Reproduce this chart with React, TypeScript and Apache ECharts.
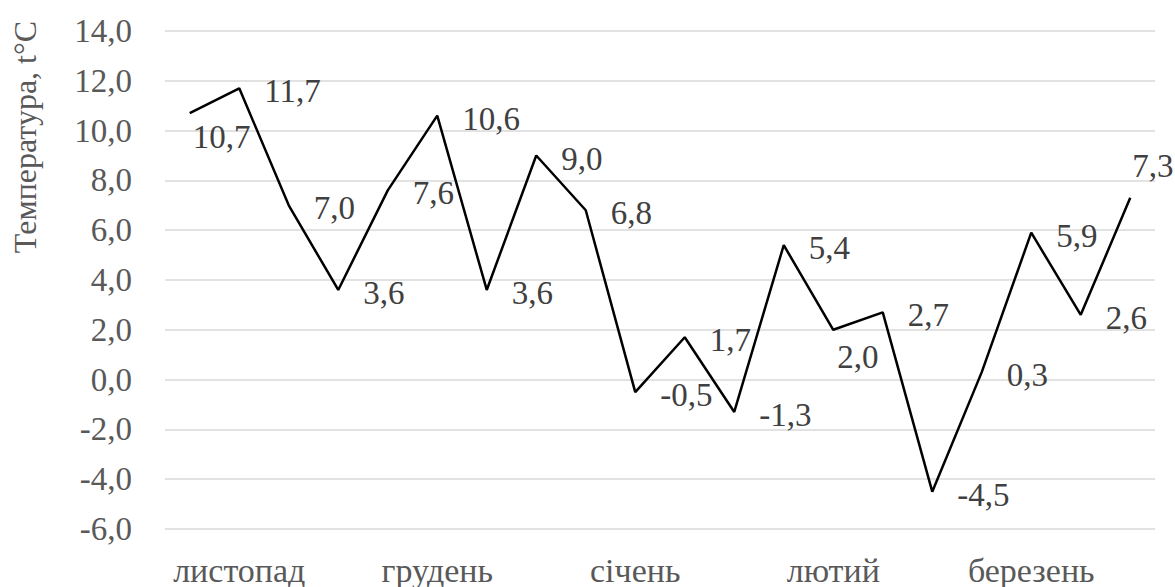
import React, { useEffect, useRef } from "react";
import * as echarts from "echarts";

const months = ["листопад", "грудень", "січень", "лютий", "березень"];
const periodsPerMonth = ["1", "2", "3", "4"];
const temperatures = [
  10.7, 11.7, 7.0, 3.6, 7.6, 10.6, 3.6, 9.0, 6.8, -0.5,
  1.7, -1.3, 5.4, 2.0, 2.7, -4.5, 0.3, 5.9, 2.6, 7.3,
];
const yMin = -6;
const yMax = 14;
const yStep = 2;
const yTitle = "Температура, t°C";

// label offsets (style, not data)
const labelOffsets: Record<number, [number, number]> = {
  0: [-22, 24],
  13: [-21, 27],
  19: [-23, -32],
};

const categories: string[] = [];
months.forEach((m) => periodsPerMonth.forEach((p) => categories.push(m + " " + p)));

const FONT = "Liberation Serif";
const fmt = (v: number) => v.toFixed(1).replace(".", ",");

export default function App() {
  const ref = useRef<HTMLDivElement>(null);
  useEffect(() => {
    if (!ref.current) return;
    const chart = echarts.init(ref.current, undefined, { renderer: "svg" });
    chart.setOption({
      animation: false,
      backgroundColor: "#ffffff",
      grid: { left: 165, right: 20, top: 31, bottom: 57, containLabel: false },
      xAxis: {
        type: "category",
        data: categories,
        boundaryGap: true,
        axisLine: { show: false },
        axisTick: { show: false },
        splitLine: { show: false },
        axisLabel: {
          interval: (i: number) => i % 4 === 1,
          formatter: (v: string) => v.split(" ")[0],
          color: "#595959",
          fontFamily: FONT,
          fontSize: 34,
          margin: 24,
        },
      },
      yAxis: {
        type: "value",
        min: yMin,
        max: yMax,
        interval: yStep,
        axisLine: { show: false },
        axisTick: { show: false },
        splitLine: { show: true, lineStyle: { color: "#d9d9d9", width: 1.5 } },
        axisLabel: {
          formatter: (v: number) => fmt(v),
          color: "#595959",
          fontFamily: FONT,
          fontSize: 33,
          margin: 33,
        },
      },
      graphic: [
        {
          type: "text",
          x: 25,
          y: 137,
          rotation: Math.PI / 2,
          style: {
            text: yTitle,
            fill: "#595959",
            fontFamily: FONT,
            fontSize: 32,
            align: "center",
            verticalAlign: "middle",
          },
        },
      ],
      series: [
        {
          type: "line",
          data: temperatures.map((v, i) => ({
            value: v,
            label: { offset: labelOffsets[i] || [0, 3] },
          })),
          symbol: "circle",
          symbolSize: 0,
          showSymbol: true,
          lineStyle: { color: "#000000", width: 2.5 },
          itemStyle: { color: "#000000" },
          label: {
            show: true,
            position: "right",
            distance: 25,
            formatter: (p: any) => fmt(p.value),
            color: "#404040",
            fontFamily: FONT,
            fontSize: 33,
            align: "left",
            verticalAlign: "middle",
          },
        },
      ],
    });
    return () => chart.dispose();
  }, []);
  return (
    <div
      ref={ref}
      style={{ position: "fixed", left: 0, top: 0, width: 1175, height: 587 }}
    />
  );
}
